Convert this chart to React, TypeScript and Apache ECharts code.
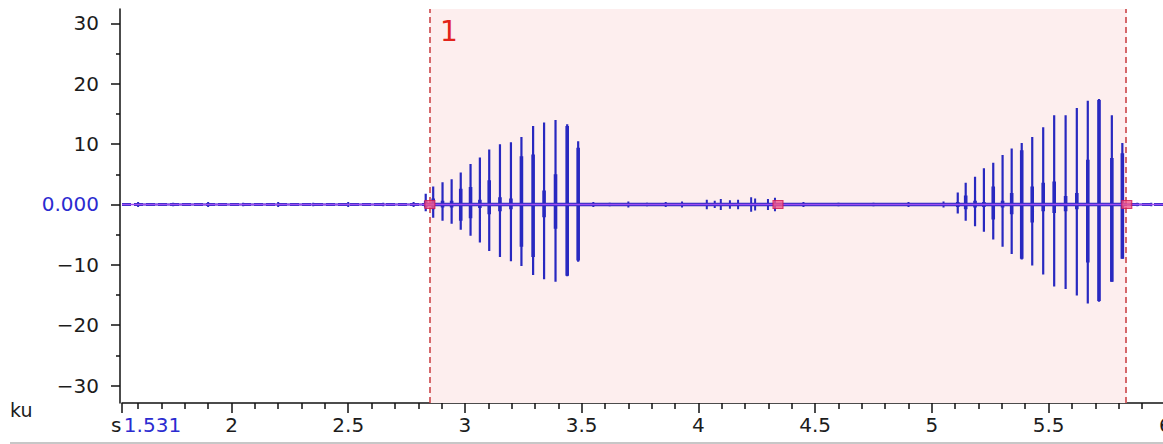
import React, { useEffect, useRef } from "react";
import * as echarts from "echarts";

// ---- axes ----
const X_MIN = 1.531;
const X_MAX = 6;
const Y_MIN = -32.9;
const Y_MAX = 32.4;
const xMajorTicks = [1.531, 2, 2.5, 3, 3.5, 4, 4.5, 5, 5.5, 6];
const xMinorTicks: number[] = [];
for (let k = 16; k <= 59; k++) {
  if (k % 5 !== 0) xMinorTicks.push(k / 10);
}
const yMajorTicks = [-30, -20, -10, 0, 10, 20, 30];
const yMinorTicks = [-25, -15, -5, 5, 15, 25];

// ---- selection region ----
const regionStart = 2.85;
const regionEnd = 5.835;
const regionLabel = "1";
const markerTimes = [2.85, 4.341, 5.835];

// ---- burst 1 ----
const burst1Times = [2.832, 2.864, 2.904, 2.943, 2.982, 3.024, 3.064, 3.104, 3.15, 3.197, 3.242, 3.292, 3.339, 3.388, 3.438, 3.485];
const burst1Up = [1.8, 3.0, 3.7, 4.2, 5.3, 6.7, 7.8, 9.1, 10.0, 10.3, 11.2, 13.0, 13.6, 14.0, 13.3, 10.5];
const burst1Down = [1.1, 2.2, 2.7, 3.2, 4.2, 5.2, 6.3, 7.7, 8.7, 9.4, 10.2, 11.7, 12.4, 12.8, 11.9, 9.5];
const burst1InnerUp = [0.6, 1.0, 0.6, 0.6, 2.6, 2.9, 0.8, 4.0, 1.2, 1.0, 8.0, 8.3, 2.3, 5.0, 13.0, 9.4];
const burst1InnerDown = [0.5, 0.8, 0.5, 0.5, 2.7, 2.3, 0.6, 1.6, 1.1, 0.8, 7.0, 8.7, 2.1, 4.0, 11.8, 9.3];

// ---- burst 2 ----
const burst2Times = [5.111, 5.145, 5.185, 5.223, 5.263, 5.303, 5.342, 5.385, 5.43, 5.477, 5.524, 5.573, 5.621, 5.668, 5.716, 5.771, 5.816];
const burst2Up = [2.0, 3.6, 4.6, 6.0, 6.9, 8.2, 9.3, 10.2, 11.2, 12.8, 14.8, 14.8, 16.0, 17.2, 17.5, 14.8, 10.2];
const burst2Down = [1.5, 2.7, 3.6, 4.5, 5.8, 7.0, 8.2, 9.1, 10.1, 11.6, 13.6, 14.0, 15.1, 16.4, 16.1, 12.8, 9.0];
const burst2InnerUp = [0.4, 1.5, 0.6, 0.4, 3.0, 0.6, 1.9, 9.0, 3.0, 3.6, 3.8, 1.4, 1.9, 7.4, 17.3, 7.7, 8.5];
const burst2InnerDown = [0.4, 0.8, 0.5, 0.4, 2.5, 0.5, 1.6, 9.0, 3.0, 1.1, 1.4, 1.1, 0.8, 9.6, 16.0, 12.8, 9.0];

// ---- small blips on the baseline ----
const blipTimes = [1.6, 1.75, 1.9, 2.05, 2.2, 2.35, 2.5, 2.65, 2.78, 3.55, 3.62, 3.7, 3.78, 3.86, 3.93, 4.036, 4.07, 4.096, 4.135, 4.17, 4.226, 4.243, 4.298, 4.328, 4.45, 4.6, 4.75, 4.9, 5.05, 5.88, 5.94];
const blipAmps = [0.4, 0.3, 0.4, 0.3, 0.4, 0.3, 0.4, 0.3, 0.4, 0.4, 0.3, 0.5, 0.3, 0.4, 0.5, 0.8, 0.6, 0.9, 0.7, 0.8, 1.2, 1.0, 0.9, 1.1, 0.4, 0.3, 0.3, 0.4, 0.5, 0.3, 0.3];

const FONT = "DejaVu Sans";
const BLUE = "#2828c0";
const LABEL_BLUE = "#2b2bd0";
const TEXT = "#1c1c1c";
const RED_DASH = "#c83a3e";

function pulses(times: number[], up: number[], down: number[]) {
  const out: number[][] = [];
  times.forEach((t, i) => {
    out.push([t, 0], [t, up[i]], [t, -down[i]], [t, 0]);
  });
  return out;
}

export default function App() {
  const ref = useRef<HTMLDivElement>(null);
  useEffect(() => {
    if (!ref.current) return;
    const chart = echarts.init(ref.current, undefined, { renderer: "svg" });
    const signal = [...pulses(burst1Times, burst1Up, burst1Down), ...pulses(burst2Times, burst2Up, burst2Down)];
    const inner = [
      ...pulses(burst1Times, burst1InnerUp, burst1InnerDown),
      ...pulses(burst2Times, burst2InnerUp, burst2InnerDown),
    ];
    const blips = pulses(blipTimes, blipAmps, blipAmps);

    chart.setOption({
      animation: false,
      grid: { left: 122, right: -2.3, top: 9, bottom: 41, containLabel: false, outerBoundsMode: "none" },
      xAxis: [
        {
          type: "value",
          min: X_MIN,
          max: X_MAX,
          position: "bottom",
          axisLine: { show: true, onZero: false, lineStyle: { color: "#111", width: 1.5 } },
          axisTick: { show: true, length: 10, customValues: xMajorTicks, lineStyle: { color: "#111", width: 1.5 } },
          axisLabel: {
            show: true,
            customValues: xMajorTicks,
            margin: 12,
            color: TEXT,
            fontSize: 20,
            fontFamily: FONT,
            showMinLabel: true,
            showMaxLabel: true,
            formatter: (v: number) => {
              if (Math.abs(v - 1.531) < 1e-6) return "{b|1.531}";
              return Number.isInteger(v) ? String(v) : v.toFixed(1);
            },
            rich: {
              b: { color: LABEL_BLUE, fontSize: 20, fontFamily: FONT, padding: [0, 0, 0, 61] },
            },
          },
          splitLine: { show: false },
        },
        {
          type: "value",
          min: X_MIN,
          max: X_MAX,
          position: "bottom",
          axisLine: { show: false, onZero: false },
          axisTick: { show: true, length: 6, customValues: xMinorTicks, lineStyle: { color: "#111", width: 1.5 } },
          axisLabel: { show: false },
          splitLine: { show: false },
        },
      ],
      yAxis: [
        {
          type: "value",
          min: Y_MIN,
          max: Y_MAX,
          position: "left",
          offset: 2,
          axisLine: { show: true, onZero: false, lineStyle: { color: "#111", width: 1.5 } },
          axisTick: { show: true, length: 9, customValues: yMajorTicks, lineStyle: { color: "#111", width: 1.5 } },
          axisLabel: {
            show: true,
            customValues: yMajorTicks,
            margin: 21,
            color: TEXT,
            fontSize: 20,
            fontFamily: FONT,
            formatter: (v: number) => {
              if (v === 0) return "{b|0.000}";
              return v < 0 ? "\u2212" + Math.abs(v) : String(v);
            },
            rich: { b: { color: LABEL_BLUE, fontSize: 20, fontFamily: FONT } },
          },
          splitLine: { show: false },
        },
        {
          type: "value",
          min: Y_MIN,
          max: Y_MAX,
          position: "left",
          offset: 2,
          axisLine: { show: false, onZero: false },
          axisTick: { show: true, length: 4, customValues: yMinorTicks, lineStyle: { color: "#111", width: 1.5 } },
          axisLabel: { show: false },
          splitLine: { show: false },
        },
      ],
      series: [
        {
          type: "line",
          name: "baseline",
          data: [
            [X_MIN, 0],
            [X_MAX, 0],
          ],
          symbol: "none",
          lineStyle: { color: BLUE, width: 3, type: [9, 3] },
          z: 2,
          markArea: {
            silent: true,
            itemStyle: { color: "#fdeeee" },
            label: {
              show: true,
              position: "insideTopLeft",
              distance: 7,
              offset: [3, 1],
              color: "#e2231a",
              fontSize: 28,
              fontFamily: FONT,
              formatter: regionLabel,
            },
            data: [[{ xAxis: regionStart }, { xAxis: regionEnd }]],
          },
        },
        {
          type: "line",
          name: "blips",
          data: blips,
          symbol: "none",
          lineStyle: { color: BLUE, width: 2 },
          z: 3,
        },
        {
          type: "line",
          name: "signal",
          data: signal,
          symbol: "none",
          lineStyle: { color: BLUE, width: 2.2 },
          z: 3,
        },
        {
          type: "line",
          name: "inner",
          data: inner,
          symbol: "none",
          lineStyle: { color: BLUE, width: 3.6 },
          z: 3,
        },
        {
          type: "line",
          name: "zero",
          data: [
            [X_MIN, 0],
            [X_MAX, 0],
          ],
          symbol: "none",
          lineStyle: { color: "#a04cf2", width: 1.6 },
          z: 4,
          markLine: {
            silent: true,
            symbol: "none",
            label: { show: false },
            data: [
              { xAxis: regionStart, lineStyle: { color: RED_DASH, width: 1.5, type: [6, 4] } },
              { xAxis: regionEnd, lineStyle: { color: RED_DASH, width: 1.5, type: [6, 4] } },
              { xAxis: X_MIN, lineStyle: { color: "#cc3ff0", width: 3, type: "solid" } },
            ],
          },
        },
        {
          type: "scatter",
          name: "markers",
          data: markerTimes.map((t) => [t, 0]),
          symbol: "rect",
          symbolSize: [10, 8],
          itemStyle: { color: "#f0588a", borderColor: "#d01850", borderWidth: 1 },
          z: 6,
        },
      ],
      graphic: [
        {
          type: "line",
          shape: { x1: 10, y1: 443, x2: 1163, y2: 443 },
          style: { stroke: "#b4b4b4", lineWidth: 1.5 },
          silent: true,
        },
        {
          type: "text",
          x: 10,
          y: 410,
          style: { text: "ku", fill: TEXT, font: `19px "${FONT}"`, verticalAlign: "middle", align: "left" },
          silent: true,
        },
        {
          type: "text",
          x: 111,
          y: 425,
          style: { text: "s", fill: TEXT, font: `20px "${FONT}"`, verticalAlign: "middle", align: "left" },
          silent: true,
        },
      ],
    });
    return () => chart.dispose();
  }, []);
  return (
    <div
      ref={ref}
      style={{ position: "absolute", left: 0, top: 0, width: 1163, height: 444, background: "#fff" }}
    />
  );
}
